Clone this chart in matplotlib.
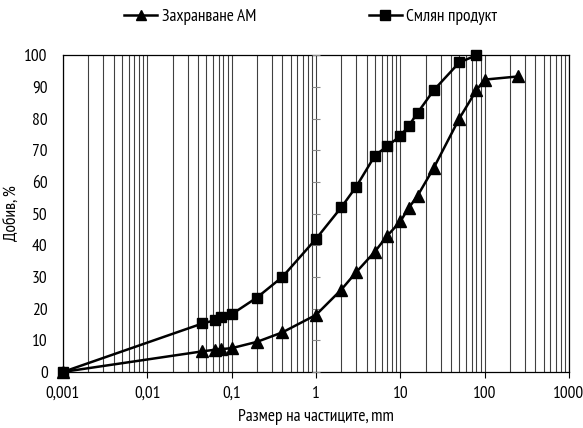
import matplotlib
matplotlib.use('Agg')
import matplotlib.pyplot as plt
from matplotlib.ticker import LogLocator, NullFormatter

plt.rcParams['font.family'] = ['PT Sans Narrow', 'DejaVu Sans']

# Захранване АМ (triangles)
size_feed = [0.001, 0.045, 0.063, 0.075, 0.1, 0.2, 0.4, 1, 2, 3, 5, 7, 10, 12.5, 16, 25, 50, 80, 100, 250]
yield_feed = [0, 6.5, 7, 7.2, 7.5, 9.5, 12.5, 18, 26, 31.5, 38, 43, 47.5, 51.7, 55.6, 64.5, 80, 89, 92.3, 93.3]

# Смлян продукт (squares)
size_ground = [0.001, 0.045, 0.063, 0.075, 0.1, 0.2, 0.4, 1, 2, 3, 5, 7, 10, 12.5, 16, 25, 50, 80]
yield_ground = [0, 15.3, 16.3, 17.2, 18.2, 23.5, 30, 42, 52, 58.5, 68.3, 71.3, 74.5, 77.6, 81.8, 89, 97.7, 100]

xticks = [0.001, 0.01, 0.1, 1, 10, 100, 1000]
xticklabels = ['0,001', '0,01', '0,1', '1', '10', '100', '1000']
yticks = list(range(0, 101, 10))

fig = plt.figure(figsize=(5.83, 4.28), dpi=100)
ax = fig.add_axes([0.108, 0.131, 0.868, 0.740])

ax.plot(size_feed, yield_feed, color='black', lw=1.8, marker='^', ms=8,
        label='Захранване АМ', clip_on=False, zorder=5)
ax.plot(size_ground, yield_ground, color='black', lw=1.8, marker='s', ms=7.5,
        label='Смлян продукт', clip_on=False, zorder=5)

ax.set_xscale('log')
ax.set_xlim(0.001, 1000)
ax.set_ylim(0, 100)
ax.set_yticks(yticks)
ax.set_xticks(xticks)
ax.set_xticklabels(xticklabels)

ax.xaxis.set_minor_locator(LogLocator(base=10, subs=range(2, 10), numticks=100))
ax.xaxis.set_minor_formatter(NullFormatter())
ax.grid(True, which='both', axis='x', color='black', lw=0.8, alpha=0.75)
ax.tick_params(axis='x', which='major', length=4, width=0.8, labelsize=12.5, pad=6)
ax.tick_params(axis='x', which='minor', length=0)
ax.tick_params(axis='y', length=0, labelsize=12.5, pad=11)

# vertical axis crosses at x = 1 with small ticks
ax.plot([1] * len(yticks), yticks, ls='none', marker='_', ms=6, mew=0.8,
        color='#888888', zorder=3)

for s in ax.spines.values():
    s.set_color('black')
    s.set_linewidth(0.9)

ax.set_xlabel('Размер на частиците, mm', fontsize=12.5, labelpad=5)
ax.set_ylabel('Добив, %', fontsize=12.5, labelpad=3)

ax.legend(loc='center', bbox_to_anchor=(0.49, 1.12), ncol=2, frameon=False,
          fontsize=12.5, handlelength=1.9, handletextpad=0.25, columnspacing=6.5,
          markerscale=0.9)

plt.savefig('out.png', dpi=100)
